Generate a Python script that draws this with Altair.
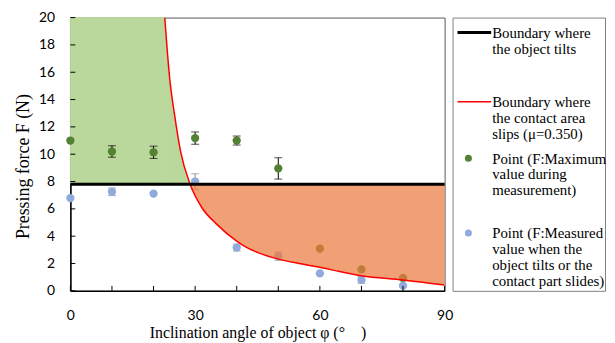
import altair as alt
import pandas as pd

# ---- data ----
angles = [0, 10, 20, 30, 40, 50, 60, 70, 80]
f_max = [11.0, 10.2, 10.14, 11.18, 11.0, 8.96, 3.09, 1.57, 0.94]
f_max_err = [0.0, 0.42, 0.45, 0.45, 0.33, 0.78, 0.0, 0.0, 0.0]
f_meas = [6.79, 7.25, 7.12, 8.0, 3.17, 2.54, 1.28, 0.8, 0.38]
f_meas_err = [0.0, 0.28, 0.0, 0.57, 0.25, 0.3, 0.0, 0.25, 0.0]

curve_phi = [22.7, 23.9, 25.0, 26.5, 28.8, 31.6, 35.1, 40.4, 42.7, 45.1, 50, 55, 60, 65, 70, 80, 90]
curve_F = [20.0, 15.5, 13.0, 10.2, 7.8, 6.1, 4.9, 3.55, 3.12, 2.8, 2.32, 2.0, 1.72, 1.4, 1.11, 0.8, 0.43]
tilt_F = 7.8

x_tick_values = [0, 10, 20, 30, 40, 50, 60, 70, 80, 90]
x_label_values = [0, 30, 60, 90]
y_tick_values = [0, 2, 4, 6, 8, 10, 12, 14, 16, 18, 20]

legend_black = ["Boundary where", "the object tilts"]
legend_red = ["Boundary where", "the contact area", "slips (\u03bc=0.350)"]
legend_green = ["Point (F:Maximum", "value during", "measurement)"]
legend_blue = ["Point (F:Measured", "value when the", "object tilts or the", "contact part slides)"]

# ---- tables ----
pts = pd.DataFrame(
    {
        "phi": angles * 2,
        "F": f_max + f_meas,
        "err": f_max_err + f_meas_err,
        "series": ["max"] * len(angles) + ["meas"] * len(angles),
    }
)
pts["lo"] = pts["F"] - pts["err"]
pts["hi"] = pts["F"] + pts["err"]

curve = pd.DataFrame({"phi": curve_phi, "F": curve_F})
curve["base"] = tilt_F
rect_df = pd.DataFrame({"x0": [0], "x1": [curve_phi[0]], "y0": [tilt_F], "y1": [20]})
tilt_df = pd.DataFrame({"F": [tilt_F]})
xt = pd.DataFrame({"v": x_tick_values})
yt = pd.DataFrame({"v": y_tick_values})

W, H = 378, 276
xs = alt.Scale(domain=[0, 90], nice=False, zero=False)
ys = alt.Scale(domain=[0, 20], nice=False, zero=False)

serif = "Liberation Serif"
sans = "Lato"
green_fill = "#BAD89C"

x_axis = alt.Axis(
    values=x_label_values, ticks=False, grid=False, labelFlush=False, labelOverlap=False,
    labelFont=sans, labelFontSize=14, labelColor="#000", labelPadding=18,
    title="Inclination angle of object \u03c6 (\u00b0\u3000)", titleFont=serif,
    titleFontSize=16, titleFontWeight="normal", titleColor="#000", titlePadding=2,
    domainColor="#000", domainWidth=1.5,
)
y_axis = alt.Axis(
    values=y_tick_values, ticks=False, grid=False, labelFlush=False, labelOverlap=False,
    labelFont=sans, labelFontSize=14, labelColor="#000", labelPadding=16,
    title="Pressing force F (N)", titleFont=serif, titleFontSize=18,
    titleFontWeight="normal", titleColor="#000", titlePadding=6, titleY=150,
    domainColor="#000", domainWidth=1.5,
)

def X(field):
    return alt.X(field, scale=xs, axis=x_axis)

def Y(field):
    return alt.Y(field, scale=ys, axis=y_axis)

base_pts = alt.Chart(pts)

green_rect = alt.Chart(rect_df).mark_rect(
    color=green_fill, stroke=green_fill, strokeWidth=1
).encode(x=X("x0:Q"), x2="x1:Q", y=Y("y0:Q"), y2="y1:Q")
green_area = alt.Chart(curve).transform_filter(f"datum.F >= {tilt_F}").mark_area(
    color=green_fill, interpolate="monotone"
).encode(x=X("phi:Q"), y=Y("F:Q"), y2="base:Q")

err_max = base_pts.transform_filter("datum.series == 'max' && datum.err > 0")
err_meas = base_pts.transform_filter("datum.series == 'meas' && datum.err > 0")

def errbars(src, color):
    bar = src.mark_rule(color=color, strokeWidth=1).encode(
        x=X("phi:Q"), y=Y("lo:Q"), y2="hi:Q"
    )
    cap_lo = src.mark_tick(color=color, orient="horizontal", size=8, thickness=1).encode(
        x=X("phi:Q"), y=Y("lo:Q")
    )
    cap_hi = src.mark_tick(color=color, orient="horizontal", size=8, thickness=1).encode(
        x=X("phi:Q"), y=Y("hi:Q")
    )
    return [bar, cap_lo, cap_hi]

pts_max = base_pts.transform_filter("datum.series == 'max'").mark_circle(
    size=70, color="#548235", opacity=1
).encode(x=X("phi:Q"), y=Y("F:Q"))
pts_meas = base_pts.transform_filter("datum.series == 'meas'").mark_circle(
    size=70, color="#8FAADC", opacity=1
).encode(x=X("phi:Q"), y=Y("F:Q"))

orange_area = alt.Chart(curve).transform_filter(f"datum.F <= {tilt_F}").mark_area(
    color="#EC7A3E", opacity=0.72, interpolate="monotone"
).encode(x=X("phi:Q"), y=Y("F:Q"), y2="base:Q")

red_line = alt.Chart(curve).mark_line(
    color="#FF0000", strokeWidth=1.5, interpolate="monotone", clip=True
).encode(x=X("phi:Q"), y=Y("F:Q"))

tilt_line = alt.Chart(tilt_df).mark_rule(color="#000", strokeWidth=3).encode(
    y=Y("F:Q")
)

x_ticks = alt.Chart(xt).mark_rule(color="#000", strokeWidth=1).encode(
    x=X("v:Q"), y=alt.value(H), y2=alt.value(H - 5)
)
y_ticks = alt.Chart(yt).mark_rule(color="#000", strokeWidth=1).encode(
    y=Y("v:Q"), x=alt.value(0), x2=alt.value(5)
)

main = alt.layer(
    green_rect, green_area,
    *errbars(err_max, "#000000"), *errbars(err_meas, "#8C8C8C"),
    pts_max, pts_meas,
    orange_area, red_line, tilt_line, x_ticks, y_ticks,
).properties(width=W, height=H, view=alt.ViewBackground(stroke="#595959", strokeWidth=1))

# ---- legend panel ----
dummy = pd.DataFrame({"k": [0]})
LW = 154
fs = 15
lh = 16

def ltext(lines, y):
    return alt.Chart(dummy).mark_text(
        text=lines, font=serif, fontSize=fs, lineHeight=lh, align="left",
        baseline="top", color="#000"
    ).encode(x=alt.value(40), y=alt.value(y))

leg = alt.layer(
    alt.Chart(dummy).mark_rule(color="#000", strokeWidth=3).encode(
        x=alt.value(5), x2=alt.value(39), y=alt.value(15)),
    ltext(legend_black, 15 - 6.6),
    alt.Chart(dummy).mark_rule(color="#FF0000", strokeWidth=1.5).encode(
        x=alt.value(5), x2=alt.value(39), y=alt.value(85)),
    ltext(legend_red, 85 - 6.6),
    alt.Chart(dummy).mark_circle(size=50, color="#548235", opacity=1).encode(
        x=alt.value(16), y=alt.value(142)),
    ltext(legend_green, 142 - 6.6),
    alt.Chart(dummy).mark_circle(size=50, color="#8FAADC", opacity=1).encode(
        x=alt.value(16), y=alt.value(217.5)),
    ltext(legend_blue, 217.5 - 6.6),
).properties(width=LW, height=H, view=alt.ViewBackground(stroke="#7F7F7F", strokeWidth=1))

chart = alt.hconcat(main, leg, spacing=8, bounds="flush").properties(
    padding={"left": 6, "top": 0, "right": 0, "bottom": 0}
).configure(background="white").configure_axis(labelOverlap=False)

chart.save("out.html", embed_options={"renderer": "svg", "actions": False})
